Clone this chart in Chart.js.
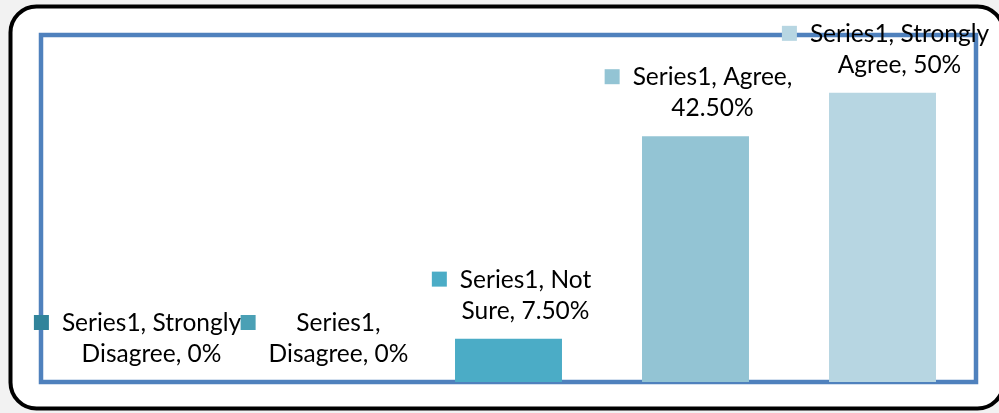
<!DOCTYPE html>
<html>
<head>
<meta charset="utf-8">
<script src="https://cdn.jsdelivr.net/npm/chart.js@4/dist/chart.umd.min.js"></script>
<style>
  html, body { margin: 0; padding: 0; background: #f2f2f2; }
  canvas { display: block; }
</style>
</head>
<body>
<canvas id="c" width="999" height="413"></canvas>
<script>
// ---- data ----
const seriesName = "Series1";
const categories = ["Strongly Disagree", "Disagree", "Not Sure", "Agree", "Strongly Agree"];
const values = [0, 0, 7.5, 42.5, 50];
const barColors = ["#31849b", "#4aa0b5", "#4bacc6", "#93c4d4", "#b7d6e2"];
// number of words on the first line of each data label
const firstLineWords = [2, 1, 2, 2, 2];

function pct(v) { return (Number.isInteger(v) ? v.toString() : v.toFixed(2)) + "%"; }
function labelLines(i) {
  const words = (seriesName + ", " + categories[i] + ", " + pct(values[i])).split(" ");
  const n = firstLineWords[i];
  return [words.slice(0, n).join(" "), words.slice(n).join(" ")];
}

const FONT = '24.5px Lato, "Open Sans", sans-serif';

const framePlugin = {
  id: 'frame',
  beforeDraw(chart) {
    const ctx = chart.ctx;
    ctx.save();
    ctx.fillStyle = '#f2f2f2';
    ctx.fillRect(0, 0, chart.width, chart.height);
    // outer rounded frame
    const x = 10.5, y = 6.5, w = 993, h = 402, r = 26;
    ctx.beginPath();
    ctx.moveTo(x + r, y);
    ctx.lineTo(x + w - r, y);
    ctx.arcTo(x + w, y, x + w, y + r, r);
    ctx.lineTo(x + w, y + h - r);
    ctx.arcTo(x + w, y + h, x + w - r, y + h, r);
    ctx.lineTo(x + r, y + h);
    ctx.arcTo(x, y + h, x, y + h - r, r);
    ctx.lineTo(x, y + r);
    ctx.arcTo(x, y, x + r, y, r);
    ctx.closePath();
    ctx.fillStyle = '#ffffff';
    ctx.fill();
    ctx.lineWidth = 4;
    ctx.strokeStyle = '#000000';
    ctx.stroke();
    ctx.restore();
  },
  beforeDatasetsDraw(chart) {
    const ctx = chart.ctx, a = chart.chartArea;
    ctx.save();
    ctx.lineWidth = 4.5;
    ctx.strokeStyle = '#4f81bd';
    ctx.strokeRect(a.left, a.top, a.right - a.left, a.bottom - a.top);
    ctx.restore();
  },
  afterDatasetsDraw(chart) {
    const ctx = chart.ctx;
    const xs = chart.scales.x, ys = chart.scales.y;
    ctx.save();
    ctx.font = FONT;
    ctx.textBaseline = 'middle';
    ctx.textAlign = 'center';
    for (let i = 0; i < categories.length; i++) {
      const lines = labelLines(i);
      const cx = xs.getPixelForValue(i);
      const top = ys.getPixelForValue(values[i]);
      const y2 = top - 28, y1 = y2 - 31;
      const tw = Math.max(ctx.measureText(lines[0]).width, ctx.measureText(lines[1]).width);
      const key = 15, gap = 13;
      const bw = key + gap + tw;
      const left = cx - bw / 2 + 3;
      ctx.fillStyle = barColors[i];
      ctx.fillRect(left, y1 - 8, key, key);
      ctx.fillStyle = '#000000';
      const tx = left + key + gap + tw / 2;
      ctx.fillText(lines[0], tx, y1);
      ctx.fillText(lines[1], tx, y2);
    }
    ctx.restore();
  }
};

new Chart(document.getElementById('c'), {
  type: 'bar',
  data: {
    labels: categories,
    datasets: [{
      label: seriesName,
      data: values,
      backgroundColor: barColors,
      borderWidth: 0,
      barPercentage: 0.572,
      categoryPercentage: 1
    }]
  },
  options: {
    responsive: false,
    animation: false,
    layout: { padding: { left: 41, right: 23, top: 35, bottom: 31 } },
    plugins: { legend: { display: false }, tooltip: { enabled: false } },
    scales: {
      x: { display: false },
      y: { display: false, min: 0, max: 60 }
    }
  },
  plugins: [framePlugin]
});
</script>
</body>
</html>
